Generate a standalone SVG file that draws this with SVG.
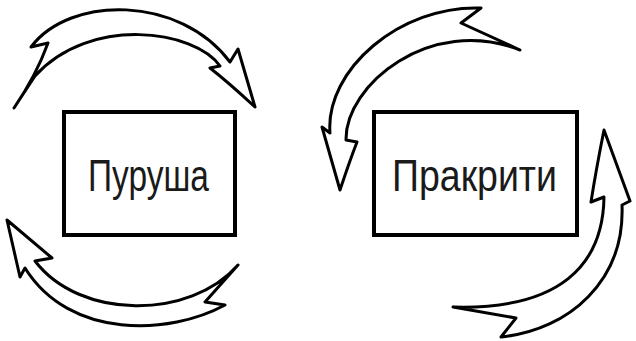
<svg xmlns="http://www.w3.org/2000/svg" width="636" height="341" viewBox="0 0 636 341">
<style>
.box{fill:#fff;stroke:#000;stroke-width:4}
.lbl{font-family:"Liberation Sans",Arial,sans-serif;font-size:45px;fill:#1a1a1a;text-anchor:middle}
.arr{fill:#fff;stroke:#000;stroke-width:3;stroke-linejoin:round;stroke-linecap:round}
</style>
<rect width="636" height="341" fill="#fff"/>
<g id="arrows">
<path id="arrow-top-left" class="arr" d="M14,108 Q36,76 48,43 L31,47 C70,-5 180,-5 230,62 L238,49 L255,107 Q228,82 210,68 L220,66 C195,30 90,15 35,76 Z"/>
<path id="arrow-bottom-left" class="arr" d="M238,265 L205,302 L225,305 C170,335 70,340 25,268 L20,277 L7,220 L52,258 L35,261 C80,320 190,320 238,265 Z"/>
<path id="arrow-top-right" class="arr" d="M520,50 L461,23 L481,8 C400,5 325,70 330,133 L322,127 L340,190 Q350,160 357,142 L346,140 C345,85 430,15 520,50 Z"/>
<path id="arrow-right" class="arr" d="M453,307 L516,318 L501,337 C570,330 625,280 622,205 L630,201 L604,130 Q596,170 591,202 L604,197 C603,265 560,310 453,307 Z"/>
</g>
<g id="purusha">
<rect class="box" x="64" y="112" width="171" height="123"/>
<text class="lbl" x="148.5" y="191" textLength="121" lengthAdjust="spacingAndGlyphs">Пуруша</text>
</g>
<g id="prakriti">
<rect class="box" x="374" y="112" width="203" height="123"/>
<text class="lbl" x="474.5" y="191" textLength="165" lengthAdjust="spacingAndGlyphs">Пракрити</text>
</g>
</svg>
